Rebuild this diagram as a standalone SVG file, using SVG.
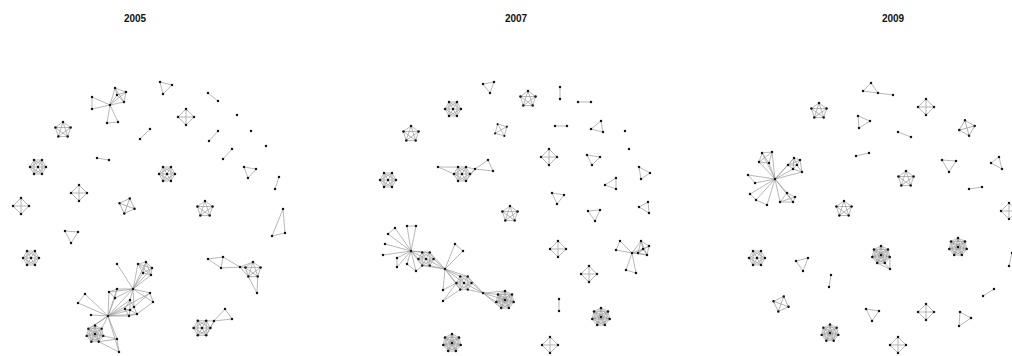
<svg xmlns="http://www.w3.org/2000/svg" xmlns:xlink="http://www.w3.org/1999/xlink" width="1012" height="356" viewBox="0 0 1012 356">
<style>
.e{fill:none;stroke:#9a9a9a;stroke-width:0.7}
.n{fill:none;stroke:none;marker-start:url(#d);marker-mid:url(#d);marker-end:url(#d)}
.t{font-family:"Liberation Sans",Arial,sans-serif;font-weight:bold;font-size:10px;fill:#111;text-anchor:middle}
</style>
<defs>
<marker id="d" markerUnits="userSpaceOnUse" markerWidth="4" markerHeight="4" refX="2" refY="2" overflow="visible"><circle cx="2" cy="2" r="1.25" fill="#151515"/></marker>
<path id="k4e" d="M0,-8L8,0L0,8L-8,0ZM0,-8V8M-8,0H8"/>
<path id="k4n" d="M0,-8L8,0L0,8L-8,0"/>
<path id="k5e" d="M0,-8L7.61,-2.47L4.7,6.47L-4.7,6.47L-7.61,-2.47ZM0,-8L4.7,6.47L-7.61,-2.47L7.61,-2.47L-4.7,6.47Z"/>
<path id="k5n" d="M0,-8L7.61,-2.47L4.7,6.47L-4.7,6.47L-7.61,-2.47"/>
<path id="k7e" d="M8,0L4,6.93L-4,6.93L-8,0L-4,-6.93L4,-6.93ZM8,0L-8,0M4,6.93L-4,-6.93M-4,6.93L4,-6.93M8,0L-4,6.93L-4,-6.93ZM4,6.93L-8,0L4,-6.93Z"/>
<path id="k7n" d="M8,0L4,6.93L-4,6.93L-8,0L-4,-6.93L4,-6.93L0,0"/>
<path id="k8e" d="M0,-9L7.04,-5.61L8.77,2L3.9,8.11L-3.9,8.11L-8.77,2L-7.04,-5.61ZM0,-9L8.77,2L-3.9,8.11L-7.04,-5.61L7.04,-5.61L3.9,8.11L-8.77,2ZM0,-9L3.9,8.11L-7.04,-5.61L8.77,2L-8.77,2L7.04,-5.61L-3.9,8.11ZM0,0L0,-9M0,0L7.04,-5.61M0,0L8.77,2M0,0L3.9,8.11M0,0L-3.9,8.11M0,0L-8.77,2M0,0L-7.04,-5.61"/>
<path id="k8n" d="M0,-9L7.04,-5.61L8.77,2L3.9,8.11L-3.9,8.11L-8.77,2L-7.04,-5.61L0,0"/>
</defs>
<rect width="1012" height="356" fill="#fff"/>
<text class="t" x="135" y="22">2005</text>
<text class="t" x="516" y="22">2007</text>
<text class="t" x="893" y="22">2009</text>

<g id="connectors" class="e">
<!-- 2005 -->
<path d="M110,105L92,97L92,109ZM110,105L107,123L118,122ZM110,105L115,88M110,105L126,92M110,105L124,102M110,105L117,95M115,88L126,92L124,102L117,95ZM115,88L124,102M126,92L117,95"/>
<use href="#k5e" transform="translate(63,130)"/>
<path d="M140,139L150,129M97,158L109,160M160,82L172,85L163,94ZM208,93L218,101M218,131L209,141M232,149L223,159M244,167L256,169L248,178ZM279,177L275,189M65,231L78,232L71,243ZM283,209L285,233L272,236Z"/>
<use href="#k7e" transform="translate(38,167)"/>
<use href="#k4e" transform="translate(186,117)"/>
<use href="#k7e" transform="translate(167,174)"/>
<use href="#k4e" transform="translate(21,206)"/>
<use href="#k4e" transform="translate(79,193)"/>
<use href="#k4e" transform="translate(127,206) rotate(20)"/>
<use href="#k5e" transform="translate(205,209)"/>
<use href="#k7e" transform="translate(31,258)"/>
<path d="M138,264L146,262L152,268L151,275L143,273ZM138,264L152,268L143,273L146,262L151,275ZM133,289L138,264M133,289L146,262M133,289L152,268M133,289L151,275M133,289L143,273M133,289L117,264M133,289L109,292M133,289L117,289M133,289L115,298M133,289L130,300M133,289L134,307M133,289L150,293M133,289L153,302M150,293L153,302M109,292L117,289L115,298ZM130,300L134,307L137,314L129,316L125,309ZM130,310L130,300M130,310L134,307M130,310L137,314M130,310L129,316M130,310L125,309M134,307L150,293M137,314L153,302M108,316L109,292M108,316L117,289M108,316L115,298M108,316L130,300M108,316L130,310M108,316L125,309M108,316L129,316M108,316L137,314M108,316L133,289M108,316L150,293M108,316L85,294M108,316L78,303M85,294L78,303M108,316L91,315M108,316L95,325M108,316L101.7,328.7M108,316L88.3,328.7M108,316L117,339M108,316L119,352M117,339L119,352M103.3,335.9L117,339M98.7,341.7L119,352M98.7,341.7L117,339"/>
<use href="#k8e" transform="translate(95,334) scale(0.95)"/>
<path d="M208,259L223,257L221,268ZM223,257L240,267L221,268M240,267L245.4,267.5M240,267L253,262M240,267L248.3,276.5M257,293L248.3,276.5M257,293L257.7,276.5"/>
<use href="#k5e" transform="translate(253,270)"/>
<use href="#k7e" transform="translate(202,328) scale(1.05)"/>
<path d="M214,321L225,309L232,319ZM214,321L210.4,328M214,321L206.2,320.7M214,321L206.2,335.3"/>
<!-- 2007 -->
<path d="M483,84L494,82L490,93ZM560,87L560,99M578,102L591,102M555,126L567,126M601,121L591,129L603,132ZM587,155L600,157L592,165ZM639,167L650,173L641,179ZM616,178L605,185L616,189ZM552,193L564,195L557,204ZM648,202L639,207L649,213ZM588,211L600,210L595,221ZM559,299L559,311"/>
<use href="#k7e" transform="translate(453,109)"/>
<use href="#k5e" transform="translate(528,99)"/>
<use href="#k5e" transform="translate(411,134)"/>
<use href="#k4e" transform="translate(501,130) rotate(-30) scale(0.85)"/>
<use href="#k7e" transform="translate(462,174)"/>
<path d="M438,167L454,174M438,167L458,167.1M475,169L470,174M475,169L466,167.1M475,169L466,180.9M475,169L488,160L493,171Z"/>
<use href="#k7e" transform="translate(388,180)"/>
<use href="#k4e" transform="translate(549,157)"/>
<use href="#k4e" transform="translate(558,249)"/>
<use href="#k4e" transform="translate(589,274)"/>
<use href="#k8e" transform="translate(601,317)"/>
<use href="#k4e" transform="translate(550,345)"/>
<use href="#k5e" transform="translate(510,214)"/>
<path d="M620,241L616,250L632,253ZM632,253L626,270L636,273ZM641,241L649,246L647,255L638,253L643,249ZM641,241L647,255L643,249L649,246L638,253ZM632,253L641,241M632,253L638,253M632,253L643,249M632,253L647,255"/>
<path d="M411,251L388,234M411,251L395,228M411,251L407,226M411,251L416,226M411,251L385,244M411,251L383,255M411,251L397,258M411,251L397,267M411,251L407,264M411,251L416,271M388,234L395,228M407,226L416,226M397,258L397,267M407,264L416,271M411,251L418.4,259M411,251L422.2,252.4M411,251L422.2,265.6M411,251L429.8,252.4M411,251L445,269M416,271L422.2,265.6M445,269L433.6,259M445,269L429.8,265.6M445,269L429.8,252.4M445,269L422.2,265.6M445,269L455,244L463,251ZM445,269L456.4,283M445,269L460.2,276.4M445,269L467.8,276.4M445,269L460.2,289.6M445,269L464,283M445,269L443,290M443,290L456.4,283M443,301L456.4,283M443,301L460.2,289.6M483,293L471.6,283M483,293L467.8,289.6M483,293L467.8,276.4M483,293L464,283M483,293L498,294.4M483,293L496.2,302M483,293L505,291M483,293L501.1,308.1M483,293L505,300"/>
<use href="#k7e" transform="translate(426,259) scale(0.95)"/>
<use href="#k7e" transform="translate(464,283) scale(0.95)"/>
<use href="#k8e" transform="translate(505,300)"/>
<use href="#k8e" transform="translate(452,343)"/>
<!-- 2009 -->
<path d="M871,83L863,91L878,93ZM878,93L893,95M858,116L870,121L859,128ZM856,156L869,153M898,132L911,137M942,160L956,161L949,172ZM999,157L991,163L1002,169ZM969,189L982,187M796,261L808,258L803,271ZM831,275L829,287M1012,253L1009,266M994,289L983,296M866,309L879,311L872,321ZM960,312L971,318L959,326Z"/>
<use href="#k5e" transform="translate(819,111)"/>
<use href="#k5e" transform="translate(844,209)"/>
<use href="#k4e" transform="translate(926,107)"/>
<use href="#k4e" transform="translate(967,128) rotate(-15)"/>
<use href="#k5e" transform="translate(906,179)"/>
<use href="#k4e" transform="translate(1009,211)"/>
<use href="#k7e" transform="translate(757,258)"/>
<use href="#k8e" transform="translate(881,255)"/>
<path d="M890,269L884.9,263.1M890,269L889.8,257M890,269L877.1,263.1"/>
<use href="#k8e" transform="translate(958,247)"/>
<use href="#k4e" transform="translate(781,304) rotate(20)"/>
<use href="#k4e" transform="translate(926,312)"/>
<use href="#k8e" transform="translate(830,333) scale(0.95)"/>
<use href="#k4e" transform="translate(898,345)"/>
<path d="M762,153L772,152L769,163L759,162ZM762,153L769,163M772,152L759,162M775,179L762,153M775,179L772,152M775,179L769,163M775,179L759,162M794,158L800,160L802,172L793,169L788,165ZM797,165L794,158M797,165L800,160M797,165L802,172M797,165L793,169M797,165L788,165M794,158L793,169M800,160L788,165M775,179L788,165M775,179L793,169M775,179L794,158M775,179L802,172M775,179L748,175L755,183ZM775,179L750,194M775,179L756,200M775,179L767,205M750,194L756,200L767,205M775,179L780,202M775,179L787,193M775,179L793,202M780,202L787,193L795,197L793,202ZM787,193L793,202M780,202L795,197"/>
</g>

<g id="nodes" class="n">
<g id="n05-star"><path d="M110,105L92,97L92,109L107,123L118,122L115,88L126,92L124,102L117,95"/></g>
<g id="n05-k5a"><use href="#k5n" transform="translate(63,130)"/></g>
<g id="n05-small"><path d="M140,139L150,129L97,158L109,160L160,82L172,85L163,94L208,93L218,101L237,115L218,131L209,141L251,131L232,149L223,159L266,146L244,167L256,169L248,178L279,177L275,189L283,209L285,233L272,236L65,231L78,232L71,243"/></g>
<g id="n05-k7a"><use href="#k7n" transform="translate(38,167)"/></g>
<g id="n05-k4a"><use href="#k4n" transform="translate(186,117)"/></g>
<g id="n05-k7b"><use href="#k7n" transform="translate(167,174)"/></g>
<g id="n05-k4b"><use href="#k4n" transform="translate(21,206)"/></g>
<g id="n05-k4c"><use href="#k4n" transform="translate(79,193)"/></g>
<g id="n05-k4d"><use href="#k4n" transform="translate(127,206) rotate(20)"/></g>
<g id="n05-k5b"><use href="#k5n" transform="translate(205,209)"/></g>
<g id="n05-k7c"><use href="#k7n" transform="translate(31,258)"/></g>
<g id="n05-big"><path d="M138,264L146,262L152,268L151,275L143,273L133,289L117,264L109,292L117,289L115,298L130,300L130,310L134,307L137,314L129,316L125,309L150,293L153,302L108,316L85,294L78,303L91,315L117,339L119,352"/><use href="#k8n" transform="translate(95,334) scale(0.95)"/></g>
<g id="n05-right"><path d="M208,259L223,257L221,268L240,267L257,293"/><use href="#k5n" transform="translate(253,270)"/></g>
<g id="n05-low"><path d="M214,321L225,309L232,319"/><use href="#k7n" transform="translate(202,328) scale(1.05)"/></g>

<g id="n07-small"><path d="M483,84L494,82L490,93L560,87L560,99L578,102L591,102L555,126L567,126L601,121L591,129L603,132L625,131L629,149L587,155L600,157L592,165L639,167L650,173L641,179L616,178L605,185L616,189L552,193L564,195L557,204L648,202L639,207L649,213L588,211L600,210L595,221L559,299L559,311"/></g>
<g id="n07-k7a"><use href="#k7n" transform="translate(453,109)"/></g>
<g id="n07-k5a"><use href="#k5n" transform="translate(528,99)"/></g>
<g id="n07-k5b"><use href="#k5n" transform="translate(411,134)"/></g>
<g id="n07-k4a"><use href="#k4n" transform="translate(501,130) rotate(-30) scale(0.85)"/></g>
<g id="n07-arms"><path d="M438,167L475,169L488,160L493,171"/><use href="#k7n" transform="translate(462,174)"/></g>
<g id="n07-k7b"><use href="#k7n" transform="translate(388,180)"/></g>
<g id="n07-k4b"><use href="#k4n" transform="translate(549,157)"/></g>
<g id="n07-k4c"><use href="#k4n" transform="translate(558,249)"/></g>
<g id="n07-k4d"><use href="#k4n" transform="translate(589,274)"/></g>
<g id="n07-k8a"><use href="#k8n" transform="translate(601,317)"/></g>
<g id="n07-k4e"><use href="#k4n" transform="translate(550,345)"/></g>
<g id="n07-k5c"><use href="#k5n" transform="translate(510,214)"/></g>
<g id="n07-fan"><path d="M620,241L616,250L632,253L626,270L636,273L641,241L649,246L647,255L638,253L643,249"/></g>
<g id="n07-big"><path d="M411,251L388,234L395,228L407,226L416,226L385,244L383,255L397,258L397,267L407,264L416,271L445,269L455,244L463,251L443,290L443,301L483,293"/><use href="#k7n" transform="translate(426,259) scale(0.95)"/><use href="#k7n" transform="translate(464,283) scale(0.95)"/><use href="#k8n" transform="translate(505,300)"/></g>
<g id="n07-k8b"><use href="#k8n" transform="translate(452,343)"/></g>

<g id="n09-small"><path d="M871,83L863,91L878,93L893,95L858,116L870,121L859,128L856,156L869,153L898,132L911,137L942,160L956,161L949,172L999,157L991,163L1002,169L969,189L982,187L796,261L808,258L803,271L831,275L829,287L1012,253L1009,266L994,289L983,296L866,309L879,311L872,321L960,312L971,318L959,326L890,269"/></g>
<g id="n09-k5a"><use href="#k5n" transform="translate(819,111)"/></g>
<g id="n09-k5b"><use href="#k5n" transform="translate(844,209)"/></g>
<g id="n09-k4a"><use href="#k4n" transform="translate(926,107)"/></g>
<g id="n09-k4b"><use href="#k4n" transform="translate(967,128) rotate(-15)"/></g>
<g id="n09-k5c"><use href="#k5n" transform="translate(906,179)"/></g>
<g id="n09-k4c"><use href="#k4n" transform="translate(1009,211)"/></g>
<g id="n09-k7a"><use href="#k7n" transform="translate(757,258)"/></g>
<g id="n09-k8a"><use href="#k8n" transform="translate(881,255)"/></g>
<g id="n09-k8b"><use href="#k8n" transform="translate(958,247)"/></g>
<g id="n09-k4d"><use href="#k4n" transform="translate(781,304) rotate(20)"/></g>
<g id="n09-k4e"><use href="#k4n" transform="translate(926,312)"/></g>
<g id="n09-k8c"><use href="#k8n" transform="translate(830,333) scale(0.95)"/></g>
<g id="n09-k4f"><use href="#k4n" transform="translate(898,345)"/></g>
<g id="n09-star"><path d="M775,179L762,153L772,152L769,163L759,162L794,158L800,160L802,172L793,169L788,165L797,165L748,175L755,183L750,194L756,200L767,205L780,202L787,193L795,197L793,202"/></g>
</g>
</svg>
